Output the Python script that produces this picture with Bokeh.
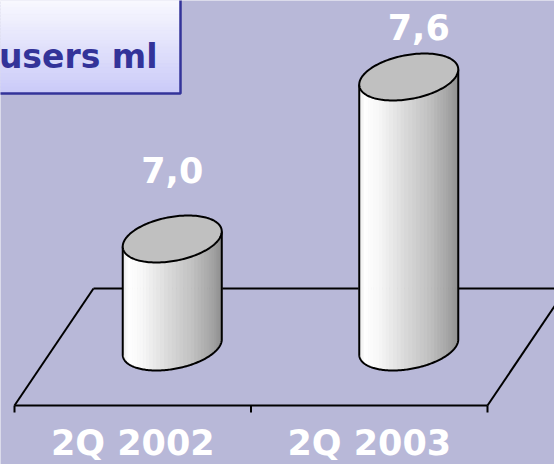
import numpy as np
from bokeh.plotting import figure
from bokeh.core.properties import value
from bokeh.embed import file_html
from bokeh.resources import INLINE

# --- data -------------------------------------------------------------
categories = ["2Q 2002", "2Q 2003"]
users_ml = [7.0, 7.6]
value_labels = ["7,0", "7,6"]
title_text = "users ml"

# --- layout / scale ---------------------------------------------------
W, H = 554, 464
FLOOR = 6.6                 # value at the floor plane the cylinders stand on
SX, SY = 236.5, 270.0       # pixels per category unit / per value unit
X0_PX, Y0_PX = 53.5, 346.5  # pixel of (0, FLOOR) on the mid-depth line


def px_x(px):
    return (px - X0_PX) / SX


def px_y(py):
    return FLOOR + (Y0_PX - py) / SY


BG = "#B8B8D8"
DEPTH_X, DEPTH_Y = 39.5 / SX, 58.5 / SY   # half floor depth (mid -> back)
RAD_A = 46.9 / SX                         # cylinder half width along the axis
K = 23.5 / 58.5                           # cylinder radius along the depth direction
RAD_BX, RAD_BY = K * DEPTH_X, K * DEPTH_Y

p = figure(width=W, height=H, output_backend="svg", toolbar_location=None,
           x_range=(px_x(0), px_x(W)), y_range=(px_y(H), px_y(0)),
           x_axis_type=None, y_axis_type=None, min_border=0,
           background_fill_color=BG, border_fill_color=BG)
p.outline_line_color = None
p.xgrid.visible = False
p.ygrid.visible = False

# --- floor ------------------------------------------------------------
n = len(categories)
fl, fr = -DEPTH_X, n - DEPTH_X            # front edge x extent
bl, br = DEPTH_X, n + DEPTH_X             # back edge x extent
yf, yb = FLOOR - DEPTH_Y, FLOOR + DEPTH_Y
p.multi_line(xs=[[fl, fr], [fl, bl], [bl, br], [fr, br]],
             ys=[[yf, yf], [yf, yb], [yb, yb], [yf, yb]],
             line_color="black", line_width=2)
tick_len = 7 / SY
p.segment(x0=[fl + i for i in range(n + 1)], y0=[yf] * (n + 1),
          x1=[fl + i for i in range(n + 1)], y1=[yf - tick_len] * (n + 1),
          line_color="black", line_width=2)

# --- cylinders --------------------------------------------------------
stops_t = [0.0, 0.06, 0.2, 0.45, 0.7, 0.88, 1.0]
stops_v = [0.90, 1.0, 0.97, 0.86, 0.76, 0.66, 0.57]


def shade(t):
    v = int(round(255 * np.interp(t, stops_t, stops_v)))
    return "#%02x%02x%02x" % (v, v, v)


th_r = np.arctan2(RAD_BX, RAD_A)
th_front = np.linspace(th_r + np.pi, th_r + 2 * np.pi, 121)
th_full = np.linspace(0, 2 * np.pi, 181)


def ring(cx, cy, th):
    return (cx + RAD_A * np.cos(th) + RAD_BX * np.sin(th),
            cy + RAD_BY * np.sin(th))


half_w = np.hypot(RAD_A, RAD_BX)
N = 40
for i, v in enumerate(users_ml):
    cx = i + 0.5
    edges = np.linspace(th_r + np.pi, th_r + 2 * np.pi, N + 1)
    xs, ys, cols = [], [], []
    for a0, a1 in zip(edges[:-1], edges[1:]):
        seg = np.array([a0, a1])
        bx, by = ring(cx, FLOOR, seg)
        tx, ty = ring(cx, v, seg)
        xs.append([bx[0], bx[1], tx[1], tx[0]])
        ys.append([by[0], by[1], ty[1], ty[0]])
        t = ((bx[0] + bx[1]) / 2 - (cx - half_w)) / (2 * half_w)
        cols.append(shade(t))
    p.patches(xs=xs, ys=ys, fill_color=cols, line_color=cols, line_width=1)

    # outline: left side, front base arc, right side
    ax, ay = ring(cx, FLOOR, th_front)
    lx, ly = ring(cx, v, np.array([th_front[0], th_front[-1]]))
    ox = np.concatenate([[lx[0]], ax, [lx[1]]])
    oy = np.concatenate([[ly[0]], ay, [ly[1]]])
    p.line(ox, oy, line_color="black", line_width=2, line_join="round")

    # top cap
    cxs, cys = ring(cx, v, th_full)
    p.patch(cxs, cys, fill_color="#C0C0C0", line_color="black", line_width=2,
            line_join="round")

# --- value labels above the cylinders ---------------------------------
label_dx = [0, 10]
label_dy = [-69, -50]
p.text(x=[i + 0.5 for i in range(n)], y=users_ml, text=value_labels,
       x_offset=label_dx, y_offset=label_dy,
       text_font=value("DejaVu Sans"), text_font_style="bold",
       text_font_size="35px", text_color="white",
       text_align="center", text_baseline="middle")

# --- category labels under the front edge -----------------------------
p.text(x=[fl + i + 0.5 for i in range(n)], y=[yf] * n, text=categories,
       y_offset=37,
       text_font=value("DejaVu Sans"), text_font_style="bold",
       text_font_size="35px", text_color="white",
       text_align="center", text_baseline="middle")

# --- title box (vertical gradient) ------------------------------------
box_l, box_r, box_t, box_b = px_x(-6), px_x(180), px_y(-6), px_y(93)
steps = 30
ys_edges = np.linspace(box_t, box_b, steps + 1)
top_rgb = np.array([252, 252, 255])
bot_rgb = np.array([202, 202, 248])
grad = []
for k in range(steps):
    c = top_rgb + (bot_rgb - top_rgb) * (k + 0.5) / steps
    grad.append("#%02x%02x%02x" % tuple(int(round(u)) for u in c))
p.quad(left=[box_l] * steps, right=[box_r] * steps,
       top=list(ys_edges[:-1]), bottom=list(ys_edges[1:]),
       fill_color=grad, line_color=grad, line_width=1)
p.quad(left=[box_l], right=[box_r], top=[box_t], bottom=[box_b],
       fill_color=None, line_color="#333399", line_width=2.5)
p.text(x=[px_x(157)], y=[px_y(56)], text=[title_text],
       text_font=value("DejaVu Sans"), text_font_style="bold",
       text_font_size="33px", text_color="#333399",
       text_align="right", text_baseline="middle")

open("out.html", "w").write(file_html(p, INLINE))
